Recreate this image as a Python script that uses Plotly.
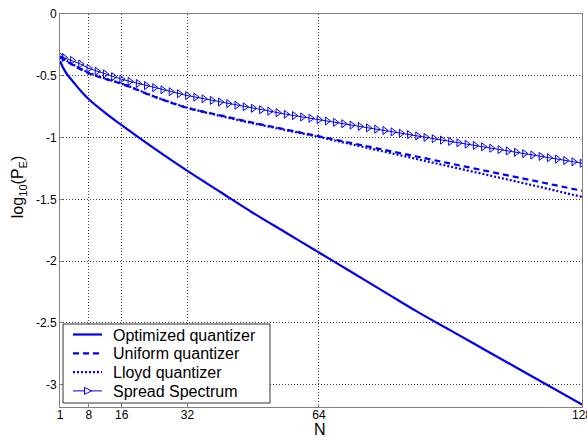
import plotly.graph_objects as go

# ---- data ----
n_opt = [1, 2, 3, 4, 6, 8, 12, 16, 24, 32, 40, 48, 56, 64, 72, 80, 88, 96, 104, 112, 120, 128]
optimized = [-0.38, -0.45, -0.50, -0.54, -0.62, -0.69, -0.80, -0.90, -1.09, -1.27, -1.44, -1.61,
             -1.77, -1.93, -2.09, -2.25, -2.41, -2.56, -2.71, -2.86, -3.01, -3.16]

n_q = [1, 2, 4, 8, 12, 16, 24, 32, 40, 48, 56, 64, 72, 80, 88, 96, 104, 112, 120, 128]
uniform = [-0.35, -0.37, -0.41, -0.48, -0.525, -0.565, -0.67, -0.76, -0.82, -0.88, -0.935, -0.99,
           -1.045, -1.10, -1.155, -1.21, -1.265, -1.32, -1.375, -1.43]
lloyd = [-0.345, -0.365, -0.405, -0.475, -0.522, -0.563, -0.668, -0.758, -0.825, -0.885, -0.94, -0.995,
         -1.055, -1.115, -1.175, -1.235, -1.295, -1.355, -1.417, -1.48]

n_ss = [1, 2, 4, 6, 8, 10, 12, 14, 16, 18, 20, 22, 24, 26, 28, 30, 32, 34, 36, 38, 40, 42, 44, 46,
        48, 50, 52, 54, 56, 58, 60, 62, 64, 66, 68, 70, 72, 74, 76, 78, 80, 82, 84, 86, 88, 90, 92,
        94, 96, 98, 100, 102, 104, 106, 108, 110, 112, 114, 116, 118, 120, 122, 124, 126, 128]
spread = [-0.340, -0.352, -0.376, -0.405, -0.440, -0.463, -0.485, -0.507, -0.528, -0.545, -0.562,
          -0.579, -0.596, -0.613, -0.629, -0.645, -0.660, -0.673, -0.686, -0.699, -0.712, -0.725,
          -0.738, -0.751, -0.763, -0.775, -0.787, -0.799, -0.811, -0.822, -0.833, -0.844, -0.855,
          -0.866, -0.877, -0.888, -0.899, -0.910, -0.921, -0.932, -0.943, -0.954, -0.965, -0.976,
          -0.987, -0.998, -1.009, -1.020, -1.031, -1.042, -1.053, -1.064, -1.075, -1.086, -1.097,
          -1.108, -1.119, -1.130, -1.141, -1.152, -1.163, -1.174, -1.185, -1.196, -1.207]

series_names = ["Optimized quantizer", "Uniform quantizer", "Lloyd quantizer", "Spread Spectrum"]

x_ticks = [1, 8, 16, 32, 64, 128]
y_ticks = [0, -0.5, -1, -1.5, -2, -2.5, -3]
y_tick_labels = ["0", "-0.5", "-1", "-1.5", "-2", "-2.5", "-3"]

BLUE = "#0000ee"
FONT = "Liberation Sans, Arial, sans-serif"

W, H = 587, 437
ML, MR, MT, MB = 60, 5, 14, 30
PW, PH = W - ML - MR, H - MT - MB

styles = [
    dict(color=BLUE, width=2.2),
    dict(color=BLUE, width=2.2, dash="6px,4px"),
    dict(color=BLUE, width=2.2, dash="2px,2px"),
    dict(color=BLUE, width=1),
]

fig = go.Figure()
fig.add_trace(go.Scatter(x=n_opt, y=optimized, mode="lines", name=series_names[0],
                         line=dict(**styles[0], shape="spline")))
fig.add_trace(go.Scatter(x=n_q, y=uniform, mode="lines", name=series_names[1],
                         line=dict(**styles[1], shape="spline")))
fig.add_trace(go.Scatter(x=n_q, y=lloyd, mode="lines", name=series_names[2],
                         line=dict(**styles[2], shape="spline")))
fig.add_trace(go.Scatter(x=n_ss, y=spread, mode="lines+markers", name=series_names[3],
                         line=styles[3],
                         marker=dict(symbol="triangle-right-open", size=7,
                                     color=BLUE, line=dict(width=1, color=BLUE))))

axis_common = dict(showline=True, linecolor="#808080", linewidth=1, mirror=True,
                   showgrid=True, gridcolor="#404040", griddash="1px,2px", gridwidth=1,
                   zeroline=False, ticks="inside", ticklen=3, tickcolor="#808080",
                   automargin=False,
                   tickfont=dict(family=FONT, size=12, color="#000000"))

fig.update_xaxes(range=[1, 128], tickmode="array", tickvals=x_ticks,
                 ticktext=[str(v) for v in x_ticks], ticklabeloverflow="allow",
                 ticklabelstandoff=-3,
                 **axis_common)
fig.update_yaxes(range=[-3.18, 0], tickmode="array", tickvals=y_ticks, ticktext=y_tick_labels,
                 **axis_common)


def px(x):
    return (x - ML) / PW


def py(y):
    return (H - MB - y) / PH


fig.add_annotation(text="log<sub>10</sub>(P<sub>E</sub>)", textangle=-90,
                   xref="paper", yref="paper", x=-0.078, y=0.56,
                   xanchor="center", yanchor="middle", showarrow=False,
                   font=dict(family=FONT, size=16, color="#000"))
fig.add_annotation(text="N", xref="paper", yref="paper", x=px(320), y=py(430),
                   xanchor="center", yanchor="middle", showarrow=False,
                   font=dict(family=FONT, size=16, color="#000"))

# ---- compact legend box (pixel layout converted to paper coords) ----
box_l, box_r, box_t, box_b = 63, 270, 324, 403
fig.add_shape(type="rect", xref="paper", yref="paper",
              x0=px(box_l), x1=px(box_r), y0=py(box_b), y1=py(box_t),
              line=dict(color="#333333", width=1), fillcolor="white", layer="above")
row0, row_step = 334.5, 18.8
for i, name in enumerate(series_names):
    yc = row0 + i * row_step
    fig.add_shape(type="line", xref="paper", yref="paper",
                  x0=px(73), x1=px(102), y0=py(yc), y1=py(yc),
                  line=styles[i], layer="above")
    fig.add_annotation(text=name, xref="paper", yref="paper", x=px(111), y=py(yc + 0.5),
                       xanchor="left", yanchor="middle", showarrow=False,
                       font=dict(family=FONT, size=16, color="#000"))
    if i == 3:
        cx = 88
        fig.add_shape(type="path", xref="paper", yref="paper",
                      path=f"M {px(cx-3.5)} {py(yc-3.5)} L {px(cx+3.5)} {py(yc)} "
                           f"L {px(cx-3.5)} {py(yc+3.5)} Z",
                      line=dict(color=BLUE, width=1), fillcolor="white", layer="above")

fig.update_layout(
    width=W, height=H,
    margin=dict(l=ML, r=MR, t=MT, b=MB),
    paper_bgcolor="white", plot_bgcolor="white",
    font=dict(family=FONT, size=12, color="#000"),
    showlegend=False,
)

fig.write_html("out.html")
